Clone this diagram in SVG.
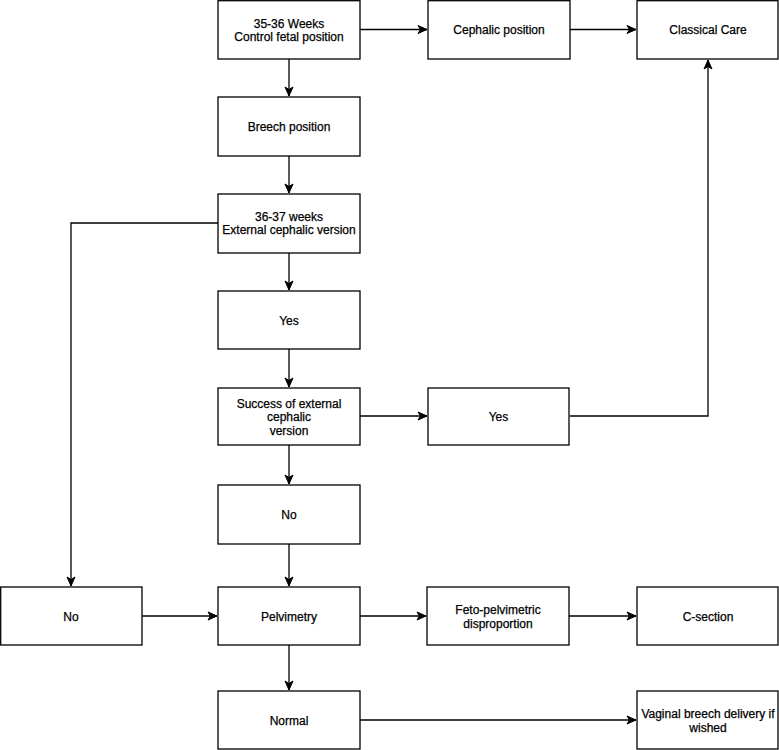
<svg xmlns="http://www.w3.org/2000/svg" width="779" height="750" viewBox="0 0 779 750">
<style>
rect{fill:#fff;stroke:#000;stroke-width:1.3}
text{font-family:"Liberation Sans",Arial,sans-serif;font-size:12px;fill:#000;stroke:#000;stroke-width:0.25;text-anchor:middle}
.c path{fill:none;stroke:#000;stroke-width:1.3;marker-end:url(#a)}
</style>
<defs>
<marker id="a" markerUnits="userSpaceOnUse" markerWidth="11" markerHeight="10" refX="10" refY="5" orient="auto">
<path d="M1,1 L10,5 L1,9 L3.5,5 Z" fill="#000" stroke="#000" stroke-width="1"/>
</marker>
</defs>
<g class="c" id="connectors">
<path d="M360,29.5 H427"/>
<path d="M570,29.5 H636"/>
<path d="M289,59 V96"/>
<path d="M289,156 V193"/>
<path d="M218,223 H71 V586"/>
<path d="M289,253 V290"/>
<path d="M289,349 V387"/>
<path d="M360,416 H427"/>
<path d="M570,416 H708 V60"/>
<path d="M289,445 V484"/>
<path d="M289,544 V586"/>
<path d="M142,616 H217"/>
<path d="M360,616 H426"/>
<path d="M569,616 H636"/>
<path d="M289,645 V690"/>
<path d="M360,720 H636"/>
</g>
<g id="n1"><rect x="218" y="0.7" width="142" height="58.3"/><text x="289" y="27.5">35-36 Weeks</text><text x="289" y="41">Control fetal position</text></g>
<g id="n2"><rect x="428" y="0.7" width="142" height="58.3"/><text x="499" y="34">Cephalic position</text></g>
<g id="n3"><rect x="637" y="0.7" width="141" height="58.3"/><text x="708" y="34">Classical Care</text></g>
<g id="n4"><rect x="218" y="97" width="142" height="59"/><text x="289" y="130.5">Breech position</text></g>
<g id="n5"><rect x="218" y="194" width="142" height="59"/><text x="289" y="220.5">36-37 weeks</text><text x="289" y="234">External cephalic version</text></g>
<g id="n6"><rect x="218" y="291" width="142" height="58"/><text x="289" y="324.5">Yes</text></g>
<g id="n7"><rect x="218" y="388" width="142" height="57"/><text x="289" y="407.5">Success of external</text><text x="289" y="421">cephalic</text><text x="289" y="435">version</text></g>
<g id="n8"><rect x="428" y="388" width="141" height="57"/><text x="498.5" y="420.5">Yes</text></g>
<g id="n9"><rect x="218" y="485" width="142" height="59"/><text x="289" y="518.5">No</text></g>
<g id="n10"><rect x="0.7" y="587" width="141.3" height="58"/><text x="71" y="620.5">No</text></g>
<g id="n11"><rect x="218" y="587" width="142" height="58"/><text x="289" y="620.5">Pelvimetry</text></g>
<g id="n12"><rect x="427" y="587" width="142" height="58"/><text x="498" y="614">Feto-pelvimetric</text><text x="498" y="627.5">disproportion</text></g>
<g id="n13"><rect x="637" y="587" width="141" height="58"/><text x="708" y="620.5">C-section</text></g>
<g id="n14"><rect x="218" y="691" width="142" height="58"/><text x="289" y="724.5">Normal</text></g>
<g id="n15"><rect x="637" y="691" width="141" height="58"/><text x="708" y="718">Vaginal breech delivery if</text><text x="708" y="731.5">wished</text></g>
</svg>
